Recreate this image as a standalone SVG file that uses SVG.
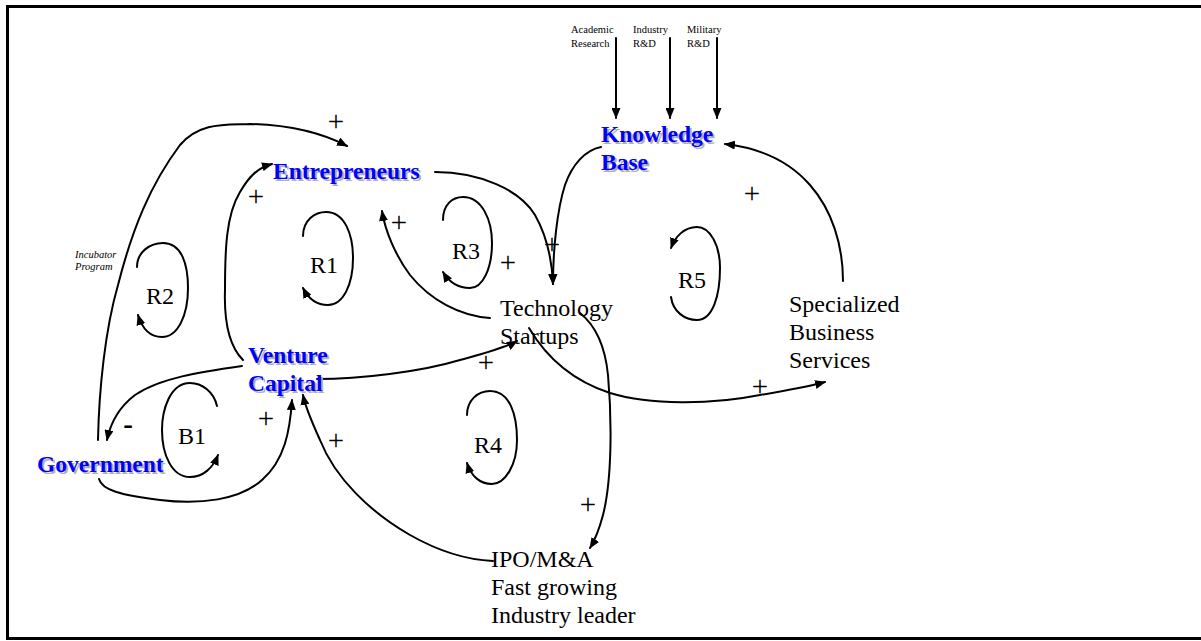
<svg xmlns="http://www.w3.org/2000/svg" width="1201" height="641" viewBox="0 0 1201 641">
<defs>
<marker id="ah" markerWidth="11" markerHeight="9" refX="10" refY="4.5" orient="auto" markerUnits="userSpaceOnUse">
<path d="M0,0 L11,4.5 L0,9 z" fill="#000"/>
</marker>
<style>
.c{fill:none;stroke:#000;stroke-width:2;marker-end:url(#ah);stroke-linejoin:round;stroke-linecap:round}
.t{font-family:"Liberation Serif","Times New Roman",serif;font-size:24px;fill:#000}
.s{font-family:"Liberation Serif","Times New Roman",serif;font-size:10.5px;fill:#000}
.i{font-family:"Liberation Serif","Times New Roman",serif;font-size:10.5px;font-style:italic;fill:#000}
.b{font-family:"Liberation Serif","Times New Roman",serif;font-size:23.5px;font-weight:bold;fill:#0000ff}
.sh{font-family:"Liberation Serif","Times New Roman",serif;font-size:23.5px;font-weight:bold;fill:#b0b0b0}
.p{font-family:"Liberation Serif","Times New Roman",serif;font-size:29px;fill:#000;text-anchor:middle}
</style>
</defs>
<rect x="7.5" y="6.5" width="1196" height="632" fill="#fff" stroke="#000" stroke-width="3"/>

<g id="connectors">
<line class="c" x1="616" y1="38" x2="616" y2="118"/>
<line class="c" x1="670" y1="38" x2="670" y2="118"/>
<line class="c" x1="717" y1="38" x2="717" y2="118"/>
<path class="c" d="M601,147 C585,150 572,165 565,185 C557,210 553,250 553,284"/>
<path class="c" d="M435,172 C480,172 520,190 535,215 C548,238 552,260 553,284"/>
<path class="c" d="M490,318 C460,316 430,300 410,275 C395,255 385,230 382,211"/>
<path class="c" d="M243,360 C228,345 224,320 225,290 C225,250 226,215 240,192 C250,175 258,168 272,164"/>
<path class="c" d="M98,440 C99,390 105,330 118,285 C132,230 150,185 180,145 C200,122 225,125 250,124 C290,125 320,132 347,146"/>
<path class="c" d="M242,366 C200,372 160,378 135,395 C118,408 110,425 107,440"/>
<path class="c" d="M99,479 C102,490 120,495 160,500 C200,505 240,500 262,480 C285,460 290,430 292,400"/>
<path class="c" d="M493,561 C470,560 440,552 410,535 C370,512 335,478 320,440 C310,418 305,405 303,395"/>
<path class="c" d="M317,379 C360,379 420,372 460,360 C485,353 505,348 517,341"/>
<path class="c" d="M580,313 C595,325 605,345 608,375 C612,420 612,480 603,515 C599,530 595,540 590,548"/>
<path class="c" d="M529,328 C545,355 570,380 610,393 C650,405 710,405 760,395 C790,390 810,386 825,382"/>
<path class="c" d="M843,281 C843,245 832,210 810,185 C790,162 760,148 725,144"/>
<path class="c" d="M303,236 C303,220 315,212 326,212 C345,212 353,235 353,258 C353,285 343,305 328,305 C316,305 308,298 303,288"/>
<path class="c" d="M443,220 C443,205 452,197 463,197 C482,197 492,220 492,243 C492,268 483,288 470,288 C458,288 449,282 443,272"/>
<path class="c" d="M137,267 C137,252 150,243 163,243 C182,243 188,265 188,288 C188,315 178,337 162,337 C150,337 142,328 138,315"/>
<path class="c" d="M217,406 C214,392 202,383 190,383 C170,383 162,410 162,430 C162,455 172,477 190,477 C203,477 213,468 218,455"/>
<path class="c" d="M467,415 C467,400 478,391 490,391 C510,391 517,415 517,440 C517,465 505,484 492,484 C480,484 471,476 467,463"/>
<path class="c" d="M671,297 C673,312 685,320 697,320 C713,320 720,295 720,268 C720,245 710,227 697,227 C684,227 675,237 671,248"/>
</g>

<g id="polarities">
<text class="p" x="336" y="131">+</text>
<text class="p" x="256" y="206">+</text>
<text class="p" x="399" y="232">+</text>
<text class="p" x="508" y="272">+</text>
<text class="p" x="552" y="254">+</text>
<text class="p" x="752" y="203">+</text>
<text class="p" x="486" y="372">+</text>
<text class="p" x="760" y="396">+</text>
<text class="p" x="266" y="428">+</text>
<text class="p" x="336" y="450">+</text>
<text class="p" x="588" y="514">+</text>
<text class="p" x="128" y="434" font-weight="bold" font-size="26">-</text>
</g>

<g id="loops">
<text class="t" x="310" y="273">R1</text>
<text class="t" x="146" y="304">R2</text>
<text class="t" x="452" y="259">R3</text>
<text class="t" x="474" y="453">R4</text>
<text class="t" x="678" y="288">R5</text>
<text class="t" x="178" y="444">B1</text>
</g>

<g id="academic"><text class="s" x="571" y="33">Academic</text><text class="s" x="571" y="47">Research</text></g>
<g id="industry"><text class="s" x="633" y="33">Industry</text><text class="s" x="633" y="47">R&amp;D</text></g>
<g id="military"><text class="s" x="687" y="33">Military</text><text class="s" x="687" y="47">R&amp;D</text></g>
<g id="incubator"><text class="i" x="75" y="258">Incubator</text><text class="i" x="75" y="270">Program</text></g>

<g id="knowledge-base">
<text class="sh" x="603" y="144">Knowledge</text><text class="sh" x="603" y="172">Base</text>
<text class="b" x="601" y="142">Knowledge</text><text class="b" x="601" y="170">Base</text>
</g>
<g id="entrepreneurs">
<text class="sh" x="275" y="181">Entrepreneurs</text>
<text class="b" x="273" y="179">Entrepreneurs</text>
</g>
<g id="venture-capital">
<text class="sh" x="250" y="365">Venture</text><text class="sh" x="250" y="393">Capital</text>
<text class="b" x="248" y="363">Venture</text><text class="b" x="248" y="391">Capital</text>
</g>
<g id="government">
<text class="sh" x="39" y="474">Government</text>
<text class="b" x="37" y="472">Government</text>
</g>
<g id="technology-startups">
<text class="t" x="500" y="316">Technology</text><text class="t" x="500" y="344">Startups</text>
</g>
<g id="specialized-services">
<text class="t" x="789" y="312">Specialized</text><text class="t" x="789" y="340">Business</text><text class="t" x="789" y="368">Services</text>
</g>
<g id="ipo">
<text class="t" x="491" y="567">IPO/M&amp;A</text><text class="t" x="491" y="595">Fast growing</text><text class="t" x="491" y="623">Industry leader</text>
</g>
</svg>
